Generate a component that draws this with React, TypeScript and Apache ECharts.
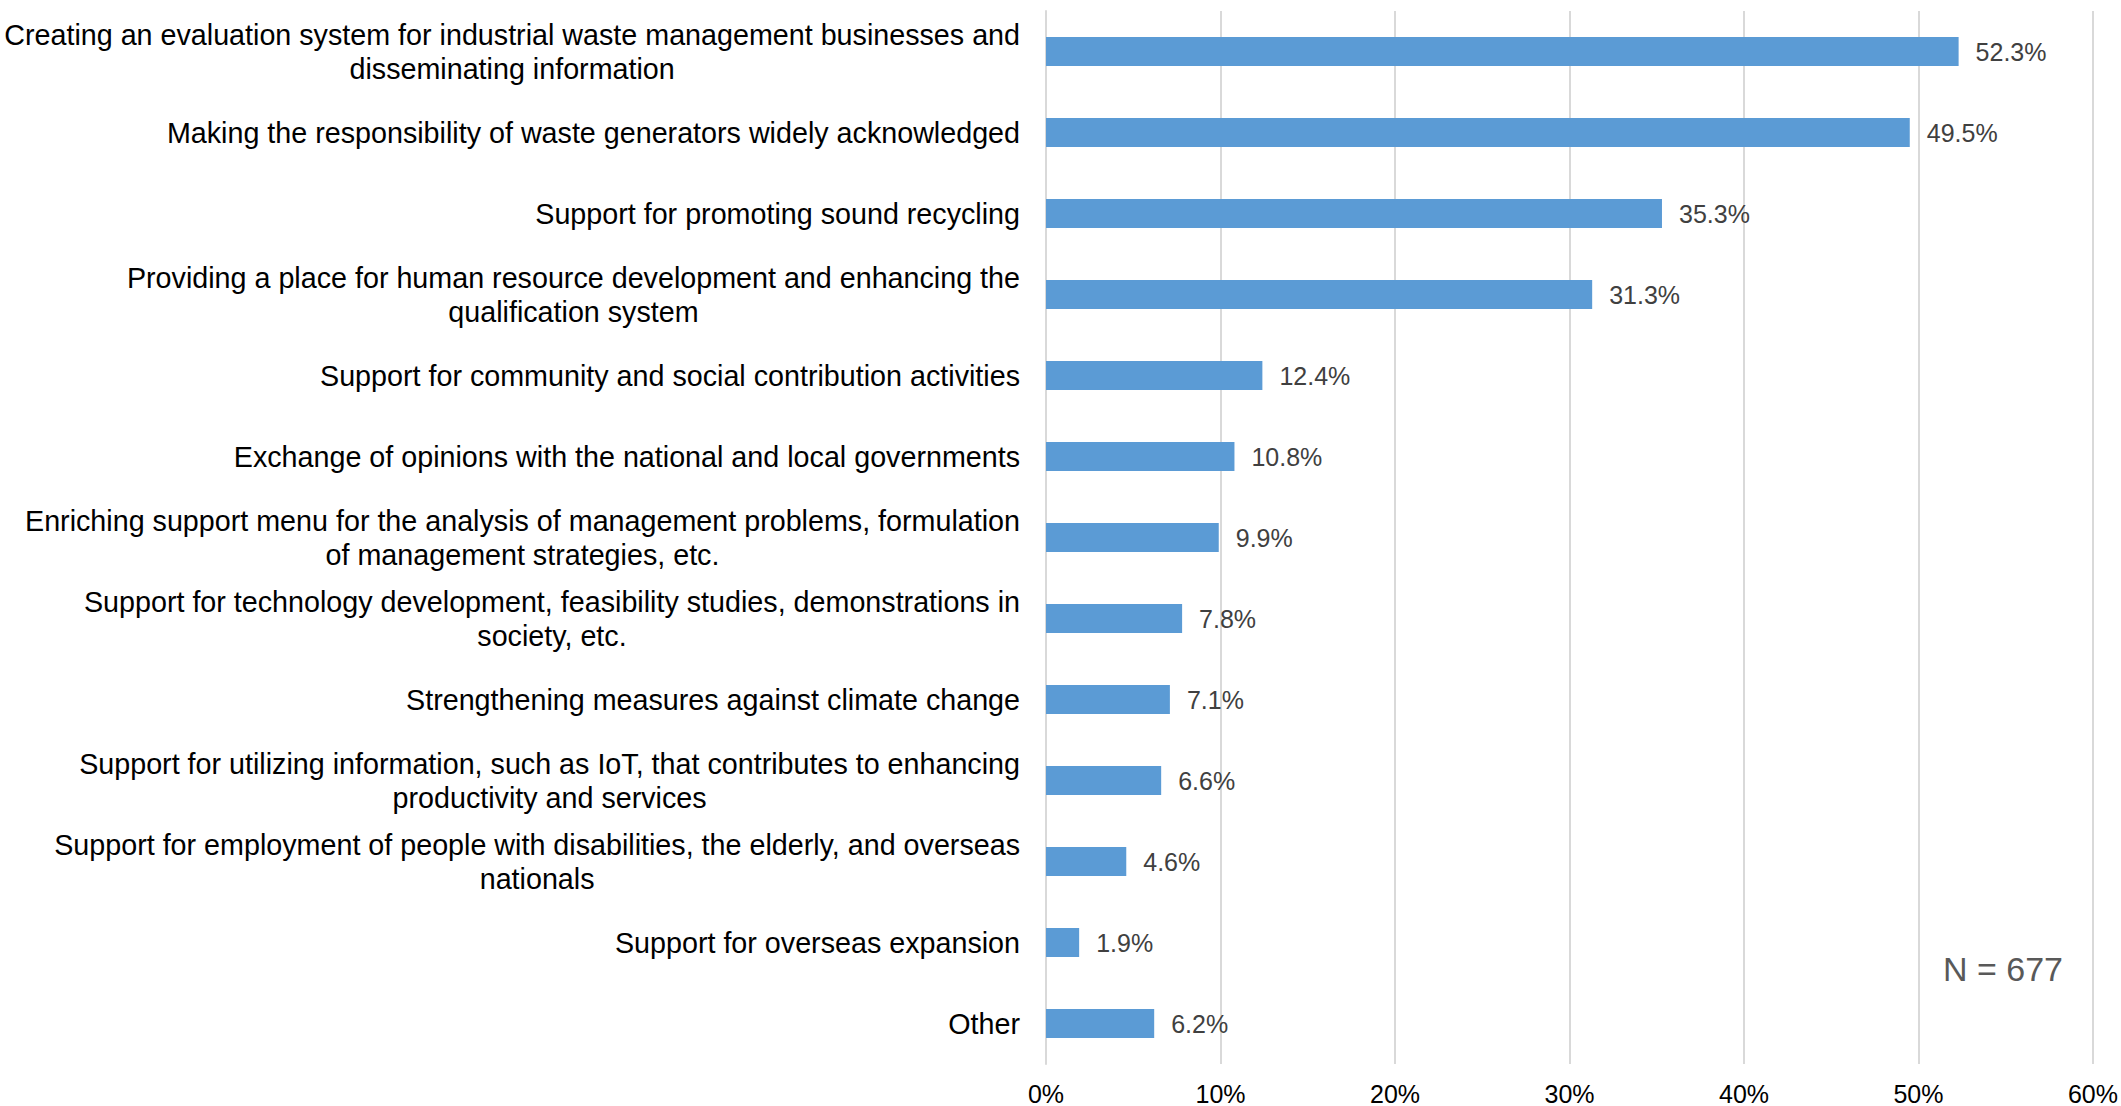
import React, { useEffect, useRef } from "react";
import * as echarts from "echarts";

const categories: string[][] = [
  ["Creating an evaluation system for industrial waste management businesses and", "disseminating information"],
  ["Making the responsibility of waste generators widely acknowledged"],
  ["Support for promoting sound recycling"],
  ["Providing a place for human resource development and enhancing the", "qualification system"],
  ["Support for community and social contribution activities"],
  ["Exchange of opinions with the national and local governments"],
  ["Enriching support menu for the analysis of management problems, formulation", "of management strategies, etc."],
  ["Support for technology development, feasibility studies, demonstrations in", "society, etc."],
  ["Strengthening measures against climate change"],
  ["Support for utilizing information, such as IoT, that contributes to enhancing", "productivity and services"],
  ["Support for employment of people with disabilities, the elderly, and overseas", "nationals"],
  ["Support for overseas expansion"],
  ["Other"],
];

const values: number[] = [52.3, 49.5, 35.3, 31.3, 12.4, 10.8, 9.9, 7.8, 7.1, 6.6, 4.6, 1.9, 6.2];

const xTicks = { min: 0, max: 60, interval: 10 };
const noteText = "N = 677";

const FONT = '"Liberation Sans", Arial, sans-serif';
const CAT_FONT_SIZE = 28.7;

export default function App() {
  const ref = useRef<HTMLDivElement>(null);
  useEffect(() => {
    document.body.style.margin = "0";
    if (!ref.current) return;
    const chart = echarts.init(ref.current, undefined, { renderer: "svg" });
    const catNames = categories.map((c) => c.join("\n"));
    chart.setOption({
      animation: false,
      backgroundColor: "#ffffff",
      grid: { left: 1046, right: 28, top: 11, bottom: 42, containLabel: false },
      xAxis: {
        type: "value",
        min: xTicks.min,
        max: xTicks.max,
        interval: xTicks.interval,
        axisLine: { show: false },
        axisTick: { show: false },
        splitLine: { show: true, lineStyle: { color: "#d9d9d9", width: 2 } },
        axisLabel: {
          formatter: "{value}%",
          fontSize: 25,
          color: "#000000",
          fontFamily: FONT,
          margin: 17,
        },
      },
      yAxis: {
        type: "category",
        inverse: true,
        data: catNames,
        axisLine: { show: true, lineStyle: { color: "#d9d9d9", width: 2 } },
        axisTick: { show: false },
        axisLabel: {
          margin: 26,
          align: "right",
          fontSize: CAT_FONT_SIZE,
          lineHeight: 34,
          color: "#000000",
          fontFamily: FONT,
          formatter: (v: string) =>
            v
              .split("\n")
              .map((l) => `{c|${l}}`)
              .join("\n"),
          rich: {
            c: {
              align: "center",
              fontSize: CAT_FONT_SIZE,
              lineHeight: 34,
              color: "#000000",
              fontFamily: FONT,
            },
          },
        },
      },
      series: [
        {
          type: "bar",
          data: values,
          barWidth: 29,
          itemStyle: { color: "#5b9bd5" },
          label: {
            show: true,
            position: "right",
            distance: 17,
            fontSize: 25,
            color: "#404040",
            fontFamily: FONT,
            formatter: (p: any) => `${Number(p.value).toFixed(1)}%`,
          },
        },
      ],
      graphic: [
        {
          type: "text",
          right: 58,
          top: 952,
          style: {
            text: noteText,
            fontSize: 34,
            fill: "#595959",
            fontFamily: FONT,
          },
        },
      ],
    });
    return () => chart.dispose();
  }, []);
  return <div ref={ref} style={{ width: 2121, height: 1106 }} />;
}
